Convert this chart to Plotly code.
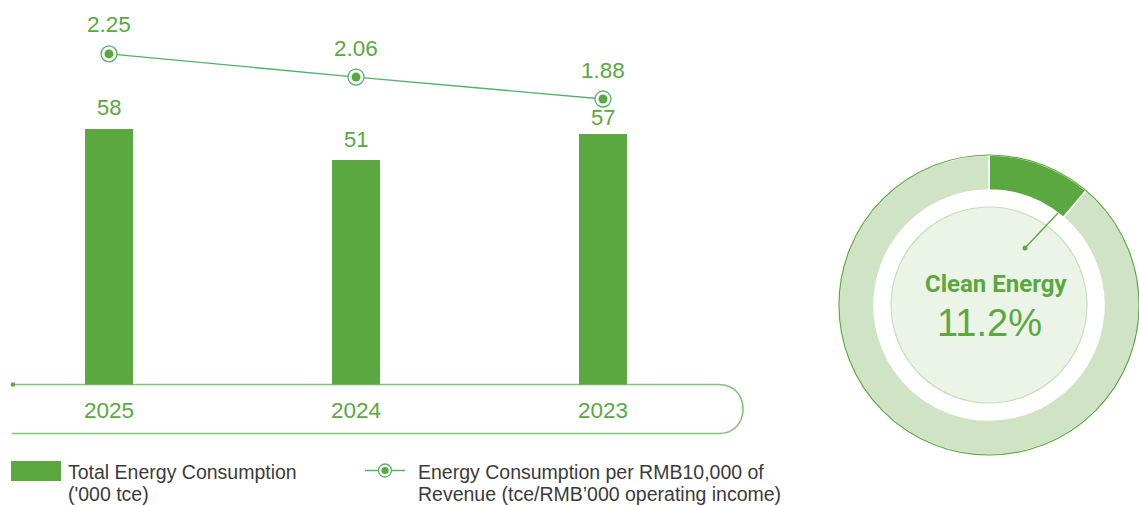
import plotly.graph_objects as go

# ---- data ----
years = ["2025", "2024", "2023"]
total_energy = [58, 51, 57]            # Total Energy Consumption ('000 tce)
intensity = [2.25, 2.06, 1.88]         # tce per RMB10,000 of revenue
clean_share = 11.2                     # share of clean energy, %
mix_labels = ["Clean Energy", "Other Energy"]
mix_values = [clean_share, round(100 - clean_share, 1)]

# ---- canvas helpers (pixel -> paper fraction) ----
W, H = 1139, 505


def fx(x):
    return x / W


def fy(y):
    return 1 - y / H


GREEN = "#5aa83f"
LINE_GREEN = "#4fb369"
FRAME_GREEN = "#82c37a"
RING_LIGHT = "#d0e4c5"
INNER_FILL = "#ebf4e6"
INNER_EDGE = "#c6e0b9"
TEXT_GREY = "#3b3b3b"
NUM_FONT = "Liberation Sans, Arial, sans-serif"

# bar panel geometry
plot_left, plot_right = 12, 742
base_y = 384.5
slot = 247.0                 # pixels between category centres
first_centre = 109.0
bar_scale = 4.40             # pixels per '000 tce
x_range = [(plot_left - first_centre) / slot, (plot_right - first_centre) / slot]
y_range = [0, base_y / bar_scale]
# secondary scale for the intensity line (pixels per unit and anchor)
line_scale, line_anchor_v, line_anchor_px = 121.9, 2.0633, 76.67
y2_range = [line_anchor_v - (base_y - line_anchor_px) / line_scale,
            line_anchor_v + line_anchor_px / line_scale]
# vertical offset (px) of each bar's value label above its bar
bar_label_lift = [22, 21, 16]

fig = go.Figure()

fig.add_trace(go.Bar(
    x=years, y=total_energy, width=48 / slot,
    marker=dict(color=GREEN, line=dict(width=0)),
    name="Total Energy Consumption ('000 tce)", showlegend=False,
))

fig.add_trace(go.Scatter(
    x=years, y=intensity, yaxis="y2", mode="lines+markers",
    line=dict(color=LINE_GREEN, width=1.3),
    marker=dict(size=16, color="white", line=dict(color=LINE_GREEN, width=1.3)),
    name="Energy Consumption per RMB10,000 of Revenue", showlegend=False,
))
fig.add_trace(go.Scatter(
    x=years, y=intensity, yaxis="y2", mode="markers",
    marker=dict(size=9, color=GREEN), showlegend=False, hoverinfo="skip",
))

# donut: clean energy share
cx, cy, r_out, r_in = 989, 305, 150, 115
fig.add_trace(go.Pie(
    labels=mix_labels, values=mix_values, hole=r_in / r_out,
    sort=False, direction="clockwise", rotation=0,
    marker=dict(colors=[GREEN, RING_LIGHT], line=dict(color="white", width=1.5)),
    textinfo="none", showlegend=False,
    domain=dict(x=[fx(cx - r_out), fx(cx + r_out)], y=[fy(cy + r_out), fy(cy - r_out)]),
))

annotations = []
# category axis: annotations are placed by category index
for i, v in enumerate(total_energy):
    annotations.append(dict(
        x=i, y=v, xref="x", yref="y", text=str(v), showarrow=False,
        xanchor="center", yanchor="middle", yshift=bar_label_lift[i],
        font=dict(family=NUM_FONT, size=22, color=GREEN),
    ))
for i, v in enumerate(intensity):
    annotations.append(dict(
        x=i, y=v, xref="x", yref="y2", text=f"{v:.2f}", showarrow=False,
        xanchor="center", yanchor="middle", yshift=29,
        font=dict(family=NUM_FONT, size=22.5, color=GREEN),
    ))

annotations += [
    dict(x=fx(cx + 7), y=fy(284), xref="paper", yref="paper", text="<b>Clean Energy</b>",
         showarrow=False, xanchor="center", yanchor="middle",
         font=dict(family="Roboto, sans-serif", size=24, color=GREEN)),
    dict(x=fx(cx), y=fy(323), xref="paper", yref="paper", text=f"{clean_share}%",
         showarrow=False, xanchor="center", yanchor="middle",
         font=dict(family=NUM_FONT, size=38, color=GREEN)),
]

legend_font = dict(family=NUM_FONT, size=19.5, color=TEXT_GREY)
for x0, lines in [(66, ["Total Energy Consumption", "('000 tce)"]),
                  (416, ["Energy Consumption per RMB10,000 of",
                         "Revenue (tce/RMB\u2019000 operating income)"])]:
    for i, t in enumerate(lines):
        annotations.append(dict(
            x=fx(x0), y=fy(472 + 22 * i), xref="paper", yref="paper", text=t,
            showarrow=False, xanchor="left", yanchor="middle", font=legend_font,
        ))


def circle(x, y, r, **kw):
    return dict(type="circle", xref="paper", yref="paper",
                x0=fx(x - r), x1=fx(x + r), y0=fy(y + r), y1=fy(y - r), **kw)


# rounded frame under the category axis
top, bot, right_x, bend = base_y, 433.5, 743, 24
frame_path = (
    f"M {fx(plot_left)},{fy(top)} L {fx(right_x - bend)},{fy(top)} "
    f"C {fx(right_x - 10)},{fy(top)} {fx(right_x)},{fy(top + 10)} {fx(right_x)},{fy((top + bot) / 2)} "
    f"C {fx(right_x)},{fy(bot - 10)} {fx(right_x - 10)},{fy(bot)} {fx(right_x - bend)},{fy(bot)} "
    f"L {fx(plot_left)},{fy(bot)}"
)

shapes = [
    dict(type="path", xref="paper", yref="paper", path=frame_path,
         line=dict(color=FRAME_GREEN, width=1.6), layer="below"),
    circle(13, base_y, 2.3, fillcolor=GREEN, line=dict(width=0)),
    # donut outer rim and inner disc
    circle(cx, cy, r_out, line=dict(color=GREEN, width=1.2)),
    circle(cx, cy, 98, fillcolor=INNER_FILL, line=dict(color=INNER_EDGE, width=1.2)),
    # leader from the clean-energy segment
    dict(type="line", xref="paper", yref="paper",
         x0=fx(cx + 36), y0=fy(cy - 57), x1=fx(cx + 69), y1=fy(cy - 92),
         line=dict(color=GREEN, width=1.3)),
    circle(cx + 36, cy - 57, 2.5, fillcolor=GREEN, line=dict(width=0)),
    # legend keys
    dict(type="rect", xref="paper", yref="paper", x0=fx(11), x1=fx(61), y0=fy(481), y1=fy(461),
         fillcolor=GREEN, line=dict(width=0)),
    dict(type="line", xref="paper", yref="paper", x0=fx(365), x1=fx(405), y0=fy(470.5), y1=fy(470.5),
         line=dict(color=LINE_GREEN, width=1.3)),
    circle(385, 470.5, 6.5, fillcolor="white", line=dict(color=LINE_GREEN, width=1.3)),
    circle(385, 470.5, 3.6, fillcolor=GREEN, line=dict(width=0)),
]

fig.update_layout(
    width=W, height=H, margin=dict(l=0, r=0, t=0, b=0),
    paper_bgcolor="white", plot_bgcolor="rgba(0,0,0,0)",
    showlegend=False, bargap=0,
    xaxis=dict(domain=[fx(plot_left), fx(plot_right)], type="category", range=x_range,
               showgrid=False, zeroline=False, showline=False, ticks="",
               tickfont=dict(family=NUM_FONT, size=22.5, color=GREEN),
               ticklabelstandoff=10, fixedrange=True),
    yaxis=dict(domain=[fy(base_y), 1], range=y_range, visible=False, fixedrange=True),
    yaxis2=dict(overlaying="y", range=y2_range, visible=False, fixedrange=True),
    annotations=annotations, shapes=shapes,
)

fig.write_html("out.html", config={"displayModeBar": False})
